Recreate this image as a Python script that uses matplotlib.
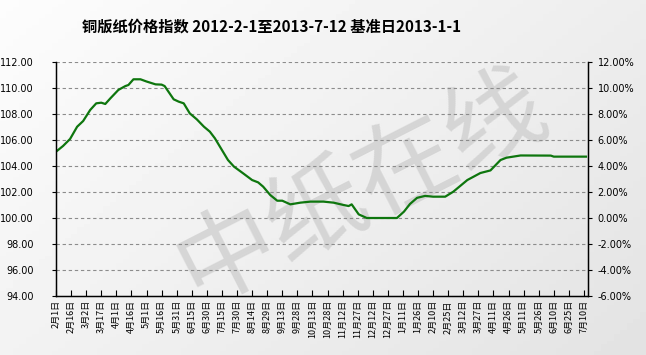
import numpy as np
import matplotlib
matplotlib.use("Agg")
from matplotlib import pyplot as plt

plt.rcParams['font.family'] = ['Noto Sans CJK SC', 'DejaVu Sans']

TITLE = "铜版纸价格指数 2012-2-1至2013-7-12 基准日2013-1-1"

# days counted from 2012-2-1
days = [0, 7, 14, 21, 27, 34, 40, 45, 49, 54, 62, 69, 72, 77, 84, 90, 99, 105,
        108, 117, 122, 127, 133, 140, 147, 153, 158, 165, 171, 177, 186, 195,
        201, 206, 213, 220, 225, 233, 243, 253, 266, 276, 286, 291, 294, 301,
        309, 339, 346, 352, 359, 367, 375, 387, 395, 409, 422, 432, 442, 448,
        462, 492, 495, 527]
index = [105.10, 105.54, 106.08, 107.02, 107.46, 108.31, 108.82, 108.87, 108.77,
         109.20, 109.85, 110.15, 110.23, 110.67, 110.67, 110.50, 110.28, 110.26,
         110.15, 109.13, 108.95, 108.82, 108.05, 107.59, 107.03, 106.64, 106.13,
         105.23, 104.46, 103.95, 103.44, 102.92, 102.74, 102.41, 101.77, 101.33,
         101.33, 101.05, 101.18, 101.26, 101.26, 101.18, 101.00, 100.92, 101.05,
         100.28, 100.00, 100.00, 100.49, 101.08, 101.55, 101.70, 101.64, 101.64,
         102.02, 102.92, 103.46, 103.66, 104.46, 104.64, 104.81, 104.80, 104.72,
         104.72]

tick_days = list(range(0, 526, 15))
tick_labels = ["2月1日", "2月16日", "3月2日", "3月17日", "4月1日", "4月16日",
               "5月1日", "5月16日", "5月31日", "6月15日", "6月30日", "7月15日",
               "7月30日", "8月14日", "8月29日", "9月13日", "9月28日", "10月13日",
               "10月28日", "11月12日", "11月27日", "12月12日", "12月27日", "1月11日",
               "1月26日", "2月10日", "2月25日", "3月12日", "3月27日", "4月11日",
               "4月26日", "5月11日", "5月26日", "6月10日", "6月25日", "7月10日"]

left_ticks = [94, 96, 98, 100, 102, 104, 106, 108, 110, 112]
right_ticks = [-6, -4, -2, 0, 2, 4, 6, 8, 10, 12]

fig = plt.figure(figsize=(6.46, 3.55), dpi=100)

# background gradient + watermark
bg = fig.add_axes([0, 0, 1, 1], zorder=-10)
yy, xx = np.mgrid[0:1:100j, 0:1:100j]
grad = 0.99 - 0.10 * (0.6 * xx + 0.4 * yy)
bg.imshow(grad, cmap='gray', vmin=0, vmax=1, extent=[0, 1, 0, 1],
          aspect='auto', origin='upper')
bg.text(0.56, 0.47, "中纸在线", fontsize=72, color='#cfcfcf', alpha=0.8,
        rotation=27, ha='center', va='center', transform=bg.transAxes)
bg.axis('off')

ax = fig.add_axes([56/646, 1-296/355, 532/646, 234/355])
ax.patch.set_alpha(0)
ax.plot(days, index, color='#0e760e', lw=1.6)
ax.set_xlim(0, 529)
ax.set_ylim(94, 112)
ax.set_yticks(left_ticks)
ax.set_yticklabels(["%.2f" % v for v in left_ticks], family='DejaVu Sans', fontsize=7)
ax.set_xticks(tick_days)
ax.set_xticklabels(tick_labels, rotation=90, fontsize=6.5)
ax.tick_params(axis='x', direction='in', length=4, pad=3)
ax.tick_params(axis='y', direction='out', length=3, pad=13)
for v in left_ticks[1:]:
    ax.axhline(v, color='#8c8c8c', lw=0.8, ls=(0, (3, 2.5)), zorder=0)
ax.spines['top'].set_visible(False)
for s in ['left', 'bottom', 'right']:
    ax.spines[s].set_color('black')
    ax.spines[s].set_linewidth(1)

ax2 = ax.twinx()
ax2.set_ylim(-6, 12)
ax2.set_yticks(right_ticks)
ax2.set_yticklabels(["%.2f%%" % v for v in right_ticks], family='DejaVu Sans', fontsize=7)
ax2.tick_params(axis='y', direction='out', length=3, pad=4)
ax2.spines['top'].set_visible(False)

fig.text(272/646, 1-27/355, TITLE, fontsize=11, fontweight='bold',
         ha='center', va='center')

fig.savefig("out.png", dpi=100)
